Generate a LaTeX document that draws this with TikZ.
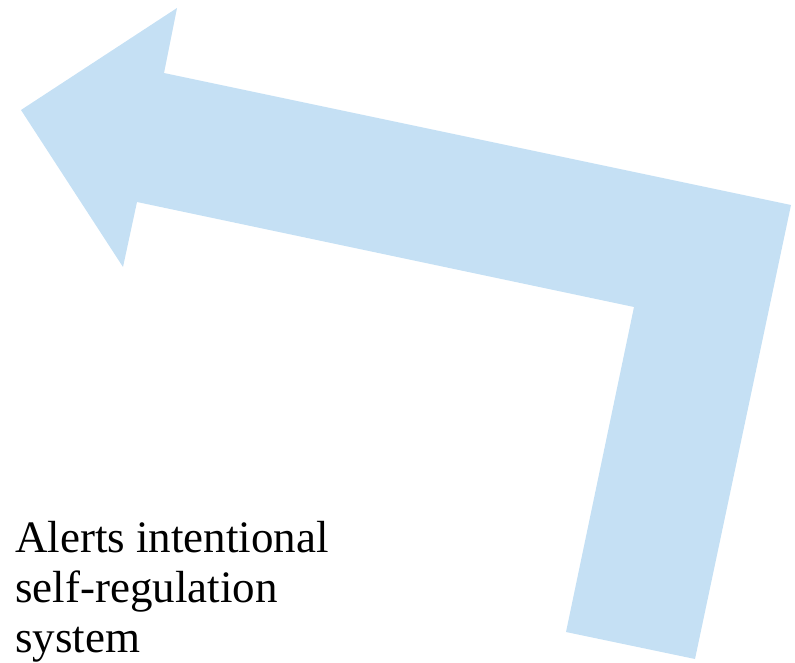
\documentclass[tikz,border=0pt]{standalone}
\usepackage{fontspec}
\setmainfont{Liberation Serif}
\definecolor{arrowblue}{HTML}{C5E0F4}
\begin{document}
\begin{tikzpicture}[x=1pt,y=-1pt]
                  % Fix the page to the size of the picture
                  \useasboundingbox (0,0) rectangle (795,663);
                  % Corners of the bent arrow, going round from the tip
                  \coordinate (tip) at (21,110);
                  \coordinate (headup) at (177,8);
                  \coordinate (shaftup) at (164,73);
                  \coordinate (bendout) at (791,205);
                  \coordinate (footright) at (695,659);
                  \coordinate (footleft) at (566,632);
                  \coordinate (bendin) at (634,307);
                  \coordinate (shaftlow) at (137,202);
                  \coordinate (headlow) at (123,267);
                  \fill[arrowblue] (tip) -- (headup) -- (shaftup) -- (bendout) -- (footright)
                    -- (footleft) -- (bendin) -- (shaftlow) -- (headlow) -- cycle;

                  % Label at the lower left (base is the last line here)
                  \node[anchor=base west, align=left, inner sep=0pt,
                        font=\fontsize{45}{50}\selectfont] (alerts) at (15,652)
                    {Alerts intentional\\self-regulation\\system};
                \end{tikzpicture}
\end{document}
